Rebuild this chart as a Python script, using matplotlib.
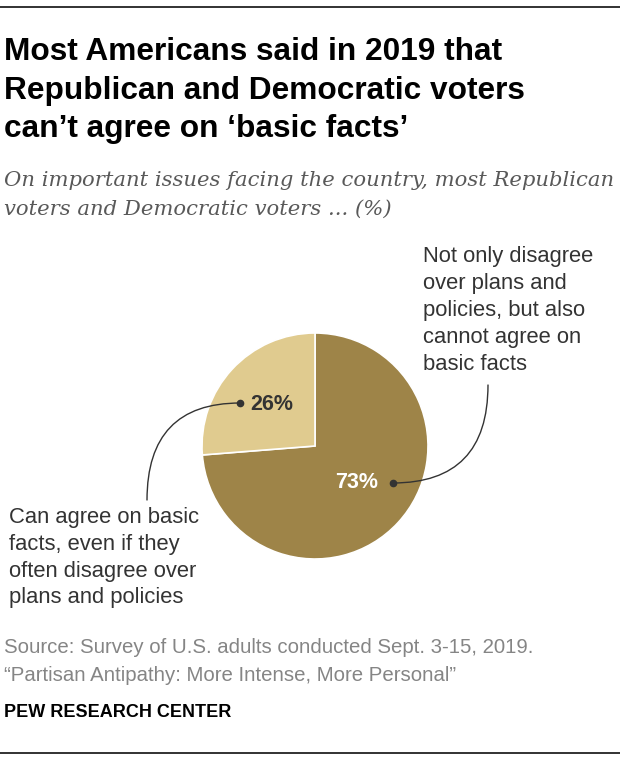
import numpy as np
import matplotlib
matplotlib.use("Agg")
import matplotlib.pyplot as plt
from matplotlib.patches import FancyArrowPatch

# data
shares = [73, 26]
share_labels = ["73%", "26%"]
slice_colors = ["#9e8448", "#e0cb8f"]

title_lines = ["Most Americans said in 2019 that",
               "Republican and Democratic voters",
               "can\u2019t agree on \u2018basic facts\u2019"]
subtitle_lines = ["On important issues facing the country, most Republican",
                  "voters and Democratic voters ... (%)"]
right_label = ["Not only disagree", "over plans and", "policies, but also",
               "cannot agree on", "basic facts"]
left_label = ["Can agree on basic", "facts, even if they",
              "often disagree over", "plans and policies"]
source_lines = ["Source: Survey of U.S. adults conducted Sept. 3-15, 2019.",
                "\u201cPartisan Antipathy: More Intense, More Personal\u201d"]

W, H = 620, 760
fig = plt.figure(figsize=(W / 100, H / 100), dpi=100)

# pie axes, placed in pixel units
cx, cy, r = 315, 446, 113
ax_pie = fig.add_axes([(cx - r) / W, (H - cy - r) / H, 2 * r / W, 2 * r / H])
ax_pie.pie(shares, colors=slice_colors, startangle=90, counterclock=False,
           radius=1, wedgeprops=dict(edgecolor="white", linewidth=1.2))
ax_pie.set_xlim(-1, 1)
ax_pie.set_ylim(-1, 1)
ax_pie.set_aspect("equal")
ax_pie.axis("off")

# overlay axes in pixel coordinates (y down)
ax = fig.add_axes([0, 0, 1, 1], facecolor="none")
ax.set_xlim(0, W)
ax.set_ylim(H, 0)
ax.axis("off")

sans = ["Liberation Sans", "DejaVu Sans"]

# rules
ax.plot([0, W], [7, 7], color="#222222", lw=1.3)
ax.plot([0, W], [753, 753], color="#222222", lw=1.3)

def draw_lines(lines, x, y0, step, **kw):
    for i, s in enumerate(lines):
        ax.text(x, y0 + i * step, s, va="baseline", ha="left", **kw)

draw_lines(title_lines, 4, 60, 38.5, fontsize=22.8, fontweight="bold",
           family=sans, color="black")
draw_lines(subtitle_lines, 4, 186, 29, fontsize=15.2, style="italic",
           family=["DejaVu Serif"], color="#595959")
draw_lines(right_label, 423, 262, 27, fontsize=15.8, family=sans, color="#333333")
draw_lines(left_label, 9, 523, 26.8, fontsize=15.8, family=sans, color="#333333")
draw_lines(source_lines, 4, 653, 28, fontsize=14.7, family=sans, color="#858585")
ax.text(4, 717, "PEW RESEARCH CENTER", va="baseline", ha="left",
        fontsize=13, fontweight="bold", family=sans, color="black")

# slice value labels
ax.text(357, 483, share_labels[0], ha="center", va="center", fontsize=15.5,
        fontweight="bold", family=sans, color="white")
ax.text(272, 405, share_labels[1], ha="center", va="center", fontsize=15.5,
        fontweight="bold", family=sans, color="#333333")

# leader lines with dots
for start, end in [((393, 483), (488, 385)), ((240, 403), (147, 500))]:
    arr = FancyArrowPatch(start, end, arrowstyle="-",
                          connectionstyle="angle3,angleA=0,angleB=90",
                          color="#333333", lw=1.0, shrinkA=0, shrinkB=0)
    ax.add_patch(arr)
    ax.plot(*start, marker="o", ms=4.5, color="#333333")

fig.savefig("out.png", dpi=100)
